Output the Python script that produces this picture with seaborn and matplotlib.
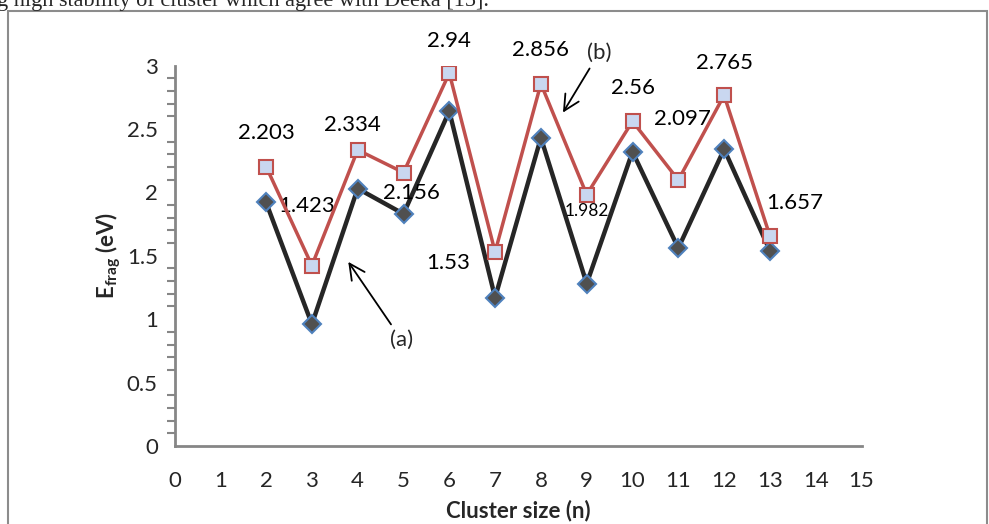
import numpy as np
import pandas as pd
import matplotlib
matplotlib.use("Agg")
import matplotlib.pyplot as plt
import seaborn as sb
from matplotlib.patches import Rectangle
from matplotlib.ticker import MultipleLocator

# cluster sizes and fragmentation energies
sizes = [2, 3, 4, 5, 6, 7, 8, 9, 10, 11, 12, 13]
efrag_a = [1.92, 0.96, 2.03, 1.83, 2.64, 1.17, 2.43, 1.28, 2.32, 1.56, 2.34, 1.54]
efrag_b = [2.203, 1.423, 2.334, 2.156, 2.94, 1.53, 2.856, 1.982, 2.56, 2.097, 2.765, 1.657]
labels_b = ["2.203", "1.423", "2.334", "2.156", "2.94", "1.53", "2.856", "1.982", "2.56", "2.097", "2.765", "1.657"]

# label offsets in points (style only)
label_offsets = [(0, 24), (-4, 43), (-4, 18), (6, -15), (0, 23), (-34, -8),
                 (0, 24), (0, -11.5), (0, 24), (3, 44), (0, 23.5), (18, 24)]
label_sizes = [16, 16, 16, 16, 16, 16, 16, 12.5, 16, 16, 16, 16]

df = pd.DataFrame({"n": sizes * 2,
                   "E": efrag_a + efrag_b,
                   "series": ["a"] * len(sizes) + ["b"] * len(sizes)})

sb.set_style("white")
plt.rcParams["font.family"] = ["Lato", "DejaVu Sans"]
plt.rcParams["mathtext.fontset"] = "custom"
plt.rcParams["mathtext.rm"] = "Lato"
plt.rcParams["mathtext.bf"] = "Lato:bold"

fig = plt.figure(figsize=(9.89, 5.24), dpi=100)
fig.patches.append(Rectangle((8 / 989, -0.05), (987 - 8) / 989, 1 - 10.7 / 524 + 0.05,
                             transform=fig.transFigure, fill=False,
                             edgecolor="#8c8c8c", linewidth=1.5))
fig.text(-3 / 989, 1 - 6 / 524, "g high stability of cluster which agree with Deeka [15].",
         family="Liberation Serif", fontsize=16, va="baseline", ha="left")

ax = fig.add_axes([174.5 / 989, 1 - 446 / 524, 687 / 989, 380.5 / 524])

sb.lineplot(data=df[df.series == "a"], x="n", y="E", ax=ax, color="#262626", lw=3.2,
            marker="D", markersize=9.5, markerfacecolor="#505050",
            markeredgecolor="#4f81bd", markeredgewidth=1.5, zorder=3)
sb.lineplot(data=df[df.series == "b"], x="n", y="E", ax=ax, color="#c0504d", lw=2.5,
            marker="s", markersize=10, markerfacecolor="#c9d7f0",
            markeredgecolor="#c0504d", markeredgewidth=1.5, zorder=4)

for n, v, t, off, fs in zip(sizes, efrag_b, labels_b, label_offsets, label_sizes):
    ax.annotate(t, (n, v), xytext=off, textcoords="offset points",
                ha="center", va="center", fontsize=fs, color="black")

arrow = dict(arrowstyle="->,head_length=0.7,head_width=0.35", color="black", lw=1.3)
ax.annotate("(b)", xy=(8.45, 2.61), xytext=(9.27, 3.10), ha="center", va="center",
            fontsize=16, arrowprops=arrow, annotation_clip=False)
ax.annotate("(a)", xy=(3.76, 1.47), xytext=(4.96, 0.836), ha="center", va="center",
            fontsize=16, arrowprops=arrow)

ax.set_xlim(0, 15)
ax.set_ylim(0, 3)
ax.xaxis.set_major_locator(MultipleLocator(1))
ax.yaxis.set_major_locator(MultipleLocator(0.5))
ax.yaxis.set_minor_locator(MultipleLocator(0.1))
ax.set_yticks([0, 0.5, 1, 1.5, 2, 2.5, 3], ["0", "0.5", "1", "1.5", "2", "2.5", "3"])

for s in ["top", "right"]:
    ax.spines[s].set_visible(False)
for s in ["left", "bottom"]:
    ax.spines[s].set_color("#868686")
    ax.spines[s].set_linewidth(2)
ax.tick_params(axis="both", which="both", direction="out", color="#868686", width=1.5)
ax.tick_params(axis="both", which="major", length=7, labelsize=16, pad=5)
ax.tick_params(axis="y", which="minor", length=6, left=True)
ax.tick_params(axis="x", which="major", pad=11)

ax.set_xlabel("Cluster size (n)", fontsize=16, fontweight="bold")
ax.set_ylabel(r"$\mathbf{E}_{\mathbf{frag}}$ (eV)", fontsize=16, fontweight="bold")
ax.xaxis.set_label_coords(0.5, -0.14)
ax.yaxis.set_label_coords(-0.075, 0.5)
ax.grid(False)

plt.savefig("out.png", dpi=100)
